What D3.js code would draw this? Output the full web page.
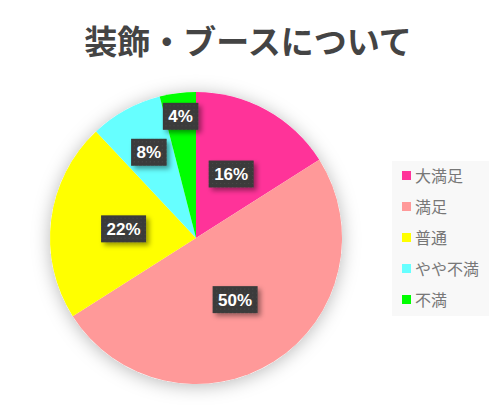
<!DOCTYPE html>
<html>
<head>
<meta charset="utf-8">
<script src="https://cdn.jsdelivr.net/npm/d3@7"></script>
<style>
  html, body { margin: 0; padding: 0; background: #fff; }
</style>
</head>
<body>
<svg id="chart"></svg>
<script>
const categories = ["大満足", "満足", "普通", "やや不満", "不満"];
const values = [16, 50, 22, 8, 4];
const colors = ["#ff3399", "#ff9999", "#ffff00", "#66ffff", "#00ff00"];
const title = "装飾・ブースについて";

const width = 500, height = 405;
const cx = 196, cy = 238, radius = 146;

const svg = d3.select("#chart")
  .attr("width", width)
  .attr("height", height);

const defs = svg.append("defs");

// soft glow behind the pie
const pieShadow = defs.append("filter").attr("id", "pieShadow")
  .attr("x", "-30%").attr("y", "-30%").attr("width", "160%").attr("height", "160%");
pieShadow.append("feDropShadow")
  .attr("dx", 0).attr("dy", 2)
  .attr("stdDeviation", 9)
  .attr("flood-color", "#000")
  .attr("flood-opacity", 0.28);

// shadow under the label boxes
const boxShadow = defs.append("filter").attr("id", "boxShadow")
  .attr("x", "-30%").attr("y", "-30%").attr("width", "170%").attr("height", "170%");
boxShadow.append("feDropShadow")
  .attr("dx", 3).attr("dy", 3)
  .attr("stdDeviation", 2.5)
  .attr("flood-color", "#000")
  .attr("flood-opacity", 0.4);

// faint dotted texture of the label boxes
const dots = defs.append("pattern").attr("id", "dots")
  .attr("width", 4).attr("height", 4)
  .attr("patternUnits", "userSpaceOnUse");
dots.append("rect").attr("width", 4).attr("height", 4).attr("fill", "#3b3b3b");
dots.append("rect").attr("x", 1).attr("y", 1).attr("width", 1).attr("height", 1).attr("fill", "#4a4a4a");

// Title
svg.append("text")
  .attr("x", 248)
  .attr("y", 54)
  .attr("text-anchor", "middle")
  .style("font-family", "'Noto Sans CJK JP', sans-serif")
  .style("font-weight", "bold")
  .style("font-size", "33px")
  .style("fill", "#444")
  .text(title);

const data = categories.map((c, i) => ({ name: c, value: values[i], color: colors[i] }));

const pie = d3.pie().value(d => d.value).sort(null);
const arcs = pie(data);
const arc = d3.arc().innerRadius(0).outerRadius(radius);

// small slices get their label pushed outward so the boxes don't collide
const labelPos = d => {
  const k = d.value < 5 ? 0.84 : d.value < 10 ? 0.67 : 0.5;
  return d3.arc().innerRadius(radius * k).outerRadius(radius * k).centroid(d);
};

const g = svg.append("g").attr("transform", `translate(${cx},${cy})`);

g.append("circle")
  .attr("r", radius)
  .attr("fill", "#fff")
  .attr("filter", "url(#pieShadow)");

g.append("g")
  .selectAll("path")
  .data(arcs)
  .enter()
  .append("path")
  .attr("d", arc)
  .attr("fill", d => d.data.color);

// Percentage labels
const labels = g.append("g")
  .selectAll("g")
  .data(arcs)
  .enter()
  .append("g")
  .attr("transform", d => `translate(${labelPos(d)})`);

labels.each(function (d) {
  const lg = d3.select(this);
  const txt = lg.append("text")
    .attr("text-anchor", "middle")
    .attr("dy", "0.35em")
    .style("font-family", "'Liberation Sans', Arial, sans-serif")
    .style("font-weight", "bold")
    .style("font-size", "17px")
    .style("fill", "#fff")
    .text(d.value + "%");
  const w = txt.node().getComputedTextLength() + 11;
  const h = 27;
  lg.insert("rect", "text")
    .attr("x", -w / 2)
    .attr("y", -h / 2)
    .attr("width", w)
    .attr("height", h)
    .attr("fill", "url(#dots)")
    .attr("filter", "url(#boxShadow)");
});

// Legend
const legend = svg.append("g").attr("transform", "translate(392,161)");
legend.append("rect")
  .attr("width", 97)
  .attr("height", 155)
  .attr("fill", "#f8f8f8");

const items = legend.selectAll("g.item")
  .data(data)
  .enter()
  .append("g")
  .attr("class", "item")
  .attr("transform", (d, i) => `translate(10,${15 + i * 31})`);

items.append("rect")
  .attr("x", 0)
  .attr("y", -5)
  .attr("width", 9)
  .attr("height", 9)
  .attr("fill", d => d.color);

items.append("text")
  .attr("x", 13)
  .attr("y", 0)
  .attr("dy", "0.35em")
  .style("font-family", "'Noto Sans CJK JP', sans-serif")
  .style("font-size", "16px")
  .style("fill", "#777")
  .text(d => d.name);
</script>
</body>
</html>
